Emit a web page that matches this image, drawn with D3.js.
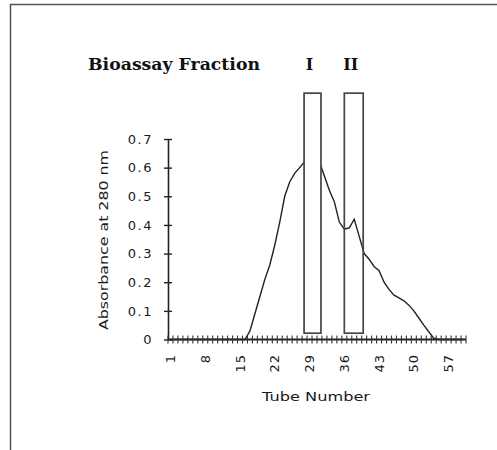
<!DOCTYPE html>
<html>
<head>
<meta charset="utf-8">
<script src="https://cdn.jsdelivr.net/npm/d3@7"></script>
<style>
  body { margin: 0; background: #fff; }
  .tick-label { font-family: "DejaVu Sans", sans-serif; font-size: 13px; fill: #1a1a1a; }
  .title { font-family: "DejaVu Serif", serif; font-weight: bold; font-size: 16px; fill: #111; }
</style>
</head>
<body>
<div id="chart"></div>
<script>
var width = 497,
    height = 450;

// tube numbers and absorbance at 280 nm
var tubes = d3.range(1, 61);
var absorbance = [
  0, 0, 0, 0, 0, 0, 0, 0, 0, 0,
  0, 0, 0, 0, 0, 0, 0.03, 0.09, 0.15, 0.21,
  0.26, 0.33, 0.41, 0.50, 0.55, 0.58, 0.60, 0.62, 0.63, 0.63,
  0.62, 0.57, 0.52, 0.48, 0.41, 0.385, 0.39, 0.42, 0.36, 0.30,
  0.28, 0.255, 0.24, 0.20, 0.175, 0.155, 0.145, 0.135, 0.12, 0.10,
  0.075, 0.05, 0.027, 0.005, 0, 0, 0, 0, 0, 0
];
var xTickLabels = [1, 8, 15, 22, 29, 36, 43, 50, 57];
var yTickValues = [0, 0.1, 0.2, 0.3, 0.4, 0.5, 0.6, 0.7];

// bioassay fractions, tube ranges
var fractionNames = ["I", "II"];
var fractionFrom = [27.9, 36.0];
var fractionTo = [31.3, 39.8];
var fractionTop = 0.86;
var fractionBottom = 0.022;

var svg = d3.select("#chart").append("svg")
    .attr("width", width)
    .attr("height", height);

// outer frame
svg.append("path")
    .attr("d", "M10.5,450 V4.5 H497")
    .attr("fill", "none")
    .attr("stroke", "#555")
    .attr("stroke-width", 1.5);

var x = d3.scaleBand()
    .domain(tubes)
    .range([168, 466]);

// continuous tube coordinate, for the fraction boxes
var xc = d3.scaleLinear()
    .domain([0.5, 60.5])
    .range([168, 466]);

var y = d3.scaleLinear()
    .domain([0, 0.7])
    .range([339.5, 139]);

// curve
var line = d3.line()
    .x(function(d, i) { return x(tubes[i]) + x.bandwidth() / 2; })
    .y(function(d) { return y(d); });

svg.append("path")
    .datum(absorbance)
    .attr("d", line)
    .attr("fill", "none")
    .attr("stroke", "#222")
    .attr("stroke-width", 1.4);

// fraction boxes (first one hides the curve behind it)
svg.selectAll(".fraction")
    .data(fractionNames)
    .enter().append("rect")
    .attr("class", "fraction")
    .attr("x", function(d, i) { return xc(fractionFrom[i]); })
    .attr("y", y(fractionTop))
    .attr("width", function(d, i) { return xc(fractionTo[i]) - xc(fractionFrom[i]); })
    .attr("height", y(fractionBottom) - y(fractionTop))
    .attr("fill", function(d, i) { return i === 0 ? "#fff" : "none"; })
    .attr("stroke", "#444")
    .attr("stroke-width", 1.7);

svg.selectAll(".fraction-label")
    .data(fractionNames)
    .enter().append("text")
    .attr("class", "title")
    .attr("x", function(d, i) { return (xc(fractionFrom[i]) + xc(fractionTo[i])) / 2 - 3; })
    .attr("y", 70)
    .attr("text-anchor", "middle")
    .text(function(d) { return d; });

svg.append("text")
    .attr("class", "title")
    .attr("x", 88)
    .attr("y", 70)
    .attr("textLength", 172)
    .attr("lengthAdjust", "spacingAndGlyphs")
    .text("Bioassay Fraction");

// y axis
var yAxis = d3.axisLeft(y)
    .tickValues(yTickValues)
    .tickSize(0)
    .tickPadding(15)
    .tickFormat(function(d) { return d === 0 ? "0" : d3.format(".1f")(d); });

var gy = svg.append("g")
    .attr("transform", "translate(168,0)")
    .call(yAxis);
gy.select(".domain").attr("stroke", "#222").attr("stroke-width", 1.6);
gy.selectAll(".tick text")
    .attr("class", "tick-label")
    .attr("font-size", null)
    .attr("font-family", null)
    .style("letter-spacing", "1.5px");
gy.selectAll(".tick").append("line")
    .attr("x1", -4).attr("x2", 4)
    .attr("stroke", "#222").attr("stroke-width", 1.4);

// x axis: ticks on every category boundary, crossing the line
var gx = svg.append("g");
gx.append("line")
    .attr("x1", 168).attr("x2", 466)
    .attr("y1", y(0)).attr("y2", y(0))
    .attr("stroke", "#222").attr("stroke-width", 2.2);
gx.selectAll(".xtick")
    .data(d3.range(0, tubes.length + 1))
    .enter().append("line")
    .attr("class", "xtick")
    .attr("x1", function(d) { return xc(d + 0.5); })
    .attr("x2", function(d) { return xc(d + 0.5); })
    .attr("y1", y(0) - 4)
    .attr("y2", y(0) + 4)
    .attr("stroke", "#333")
    .attr("stroke-width", 1.1);
gx.selectAll(".xlabel")
    .data(xTickLabels)
    .enter().append("text")
    .attr("class", "tick-label")
    .attr("transform", function(d) {
      return "translate(" + (x(d) + x.bandwidth() / 2) + ",354) rotate(-90)";
    })
    .attr("dy", "0.35em")
    .attr("text-anchor", "end")
    .style("letter-spacing", "1px")
    .text(function(d) { return d; });

// axis titles
svg.append("text")
    .attr("class", "tick-label")
    .attr("x", 316)
    .attr("y", 401)
    .attr("text-anchor", "middle")
    .attr("textLength", 108)
    .attr("lengthAdjust", "spacingAndGlyphs")
    .text("Tube Number");

svg.append("text")
    .attr("class", "tick-label")
    .attr("transform", "translate(108,240) rotate(-90)")
    .attr("text-anchor", "middle")
    .attr("textLength", 180)
    .attr("lengthAdjust", "spacingAndGlyphs")
    .text("Absorbance at 280 nm");
</script>
</body>
</html>
